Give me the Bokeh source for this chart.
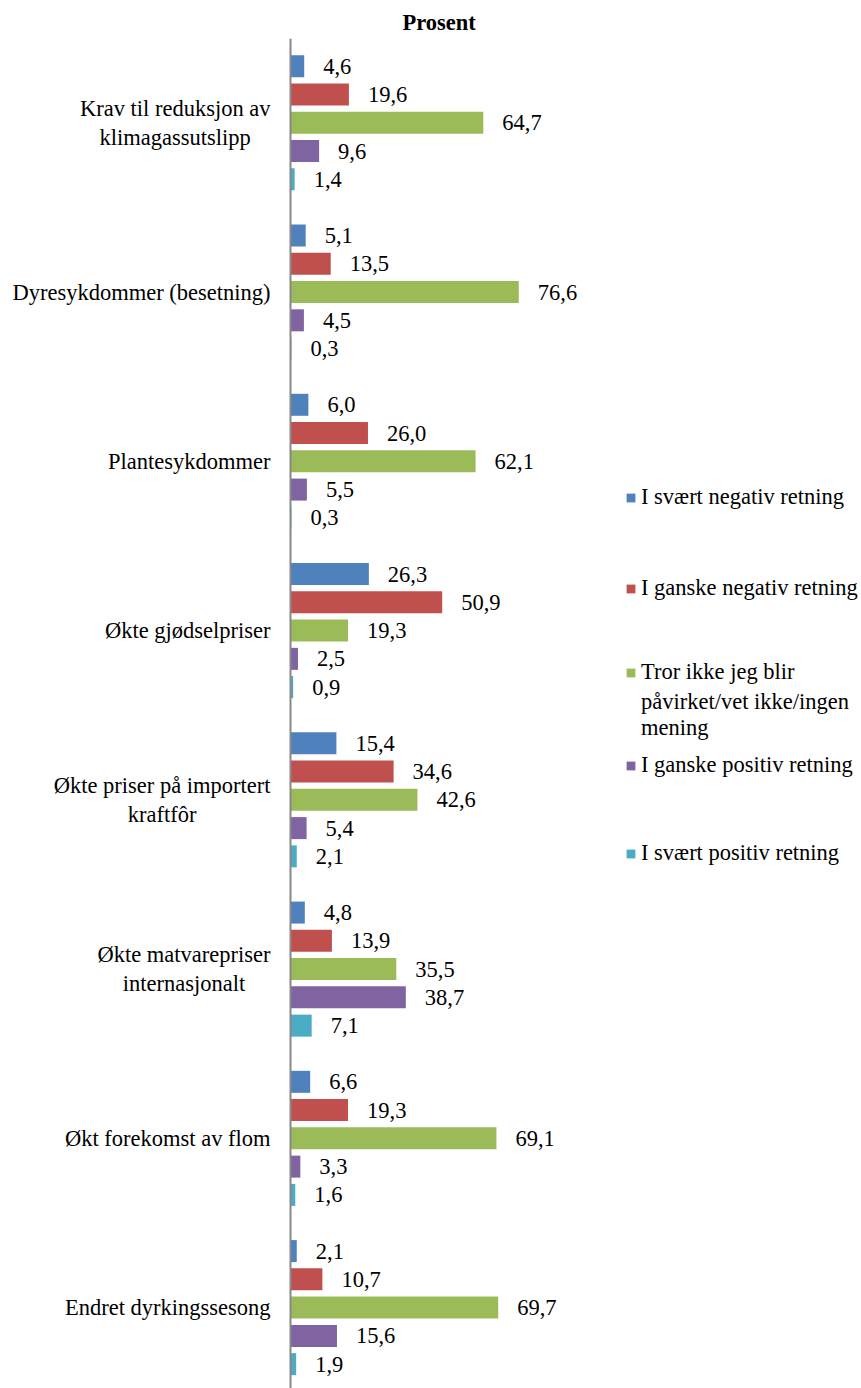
from bokeh.plotting import figure
from bokeh.models import (ColumnDataSource, Range1d, Legend, LegendItem, Title, Span)
from bokeh.transform import dodge
from bokeh.embed import file_html
from bokeh.resources import INLINE

categories = [
    "Krav til reduksjon av\nklimagassutslipp",
    "Dyresykdommer (besetning)",
    "Plantesykdommer",
    "Økte gjødselpriser",
    "Økte priser på importert\nkraftfôr",
    "Økte matvarepriser\ninternasjonalt",
    "Økt forekomst av flom",
    "Endret dyrkingssesong",
]
series_names = [
    "I svært negativ retning",
    "I ganske negativ retning",
    "Tror ikke jeg blir\npåvirket/vet ikke/ingen\nmening",
    "I ganske positiv retning",
    "I svært positiv retning",
]
svaert_negativ = [4.6, 5.1, 6.0, 26.3, 15.4, 4.8, 6.6, 2.1]
ganske_negativ = [19.6, 13.5, 26.0, 50.9, 34.6, 13.9, 19.3, 10.7]
tror_ikke = [64.7, 76.6, 62.1, 19.3, 42.6, 35.5, 69.1, 69.7]
ganske_positiv = [9.6, 4.5, 5.5, 2.5, 5.4, 38.7, 3.3, 15.6]
svaert_positiv = [1.4, 0.3, 0.3, 0.9, 2.1, 7.1, 1.6, 1.9]
colors = ["#4F81BD", "#C0504D", "#9BBB59", "#8064A2", "#4BACC6"]

series = [svaert_negativ, ganske_negativ, tror_ikke, ganske_positiv, svaert_positiv]
FONT = "Liberation Serif"
FS = "22.5px"

idx = list(range(len(categories)))
data = {"idx": idx, "cat": categories, "zero": [0] * len(categories)}
for k, vals in enumerate(series):
    data[f"s{k}"] = vals
    data[f"l{k}"] = [f"{v:.1f}".replace(".", ",") for v in vals]
src = ColumnDataSource(data)

W, H, TOP = 861, 1388, 38
AXIS_PX = 290          # pixel position of the value-axis line inside the frame
PX_PER_UNIT = 2.98
CAT_PX = 169.26
FIRST_CAT_PX = 84.3

frame_h = H - TOP
y_end = -FIRST_CAT_PX / CAT_PX
y_start = y_end + frame_h / CAT_PX
x_start = -AXIS_PX / PX_PER_UNIT
x_end = (W - AXIS_PX) / PX_PER_UNIT

p = figure(width=W, height=H, output_backend="svg", toolbar_location=None,
           x_range=Range1d(x_start, x_end), y_range=Range1d(y_start, y_end),
           x_axis_location=None, y_axis_location=None,
           min_border_left=0, min_border_right=0, min_border_top=TOP, min_border_bottom=0)
p.outline_line_color = None
p.grid.grid_line_color = None
p.background_fill_color = "white"

step = 0.167
bar_h = 0.130
renderers = []
for k in range(5):
    off = (k - 2) * step
    r = p.hbar(y=dodge("idx", off, range=p.y_range), right=f"s{k}", left=0, height=bar_h,
               fill_color=colors[k], line_color=None, source=src)
    renderers.append(r)
    p.text(x=f"s{k}", y=dodge("idx", off, range=p.y_range), text=f"l{k}", source=src,
           x_offset=19, text_align="left", text_baseline="middle",
           text_font={"value": FONT}, text_font_size=FS, text_color="black")

# category labels: block right-aligned next to axis, lines centred within block
p.text(x="zero", y="idx", text="cat", source=src, x_offset=-20,
       anchor="center_right", text_align="center", text_baseline="middle",
       text_font={"value": FONT}, text_font_size=FS, text_color="black",
       text_line_height=1.18)

# value axis line
p.add_layout(Span(location=0, dimension="height", line_color="#888888", line_width=2))

p.title = Title(text="Prosent", text_font=FONT, text_font_style="bold",
                text_font_size=FS, text_color="black", align="left", offset=402,
                standoff=8, vertical_align="bottom")

dummy = p.hbar(y=[], right=[], height=0.1, fill_alpha=0, line_alpha=0)

legend_specs = [
    (series_names[0], renderers[0], 878),
    (series_names[1], renderers[1], 787),
    ("Tror ikke jeg blir", renderers[2], 703),
    ("påvirket/vet ikke/ingen\nmening", dummy, 647),
    (series_names[3], renderers[3], 610),
    (series_names[4], renderers[4], 522),
]
for label, rend, vy in legend_specs:
    lg = Legend(items=[LegendItem(label=label, renderers=[rend])],
                location=(625, vy), margin=0, padding=0, border_line_color=None,
                background_fill_alpha=0, glyph_width=11, glyph_height=11,
                label_standoff=5, label_text_font=FONT, label_text_font_size=FS,
                label_text_color="black", label_text_line_height=1.18)
    p.add_layout(lg)

open("out.html", "w").write(file_html(p, INLINE))
